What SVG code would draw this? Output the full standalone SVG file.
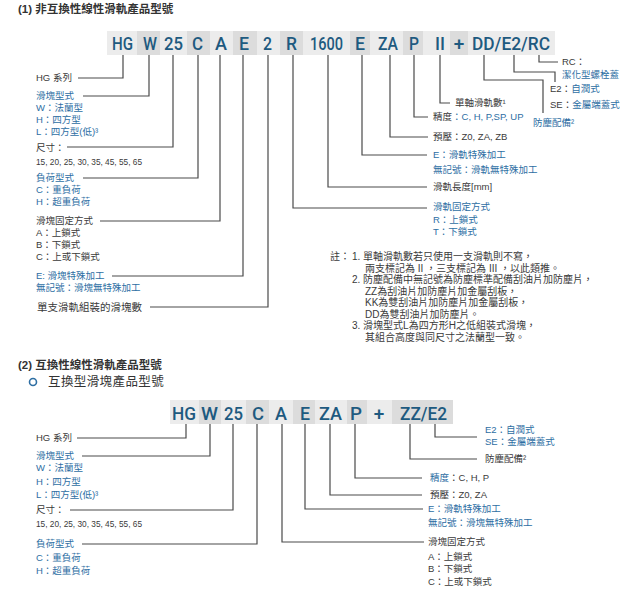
<svg xmlns="http://www.w3.org/2000/svg" width="632" height="600" viewBox="0 0 632 600">
<style>
.bg{fill:#ffffff}
.b1{fill:#ececec}
.b2{fill:#dcdcdc}
.code{font-family:Roboto,"Liberation Sans",sans-serif;font-weight:500;font-size:19px;fill:#1e5a80}
.t{font-family:"Liberation Sans","Noto Sans CJK TC",sans-serif;font-size:9.5px;fill:#3a3a3a}
.bl{fill:#2d6ea3}
.big{font-size:10.5px}
.nt{font-size:10px}
.ttl{font-family:"Liberation Sans","Noto Sans CJK TC",sans-serif;font-size:11.5px;font-weight:bold;fill:#333333}
.sub{font-family:"Liberation Sans","Noto Sans CJK TC",sans-serif;font-size:12.5px;fill:#333333;letter-spacing:0.4px}
.conn path{fill:none;stroke:#4a4a4a;stroke-width:1.2}
</style>
<rect class="bg" x="0" y="0" width="632" height="600"/>

<g id="title1"><text class="ttl" x="18" y="13">(1) 非互換性線性滑軌產品型號</text></g>

<g id="code1">
<rect class="b1" x="107" y="31" width="30" height="24"/>
<rect class="b2" x="137" y="31" width="23" height="24"/>
<rect class="b1" x="160" y="31" width="27" height="24"/>
<rect class="b2" x="187" y="31" width="23" height="24"/>
<rect class="b1" x="210" y="31" width="23" height="24"/>
<rect class="b2" x="233" y="31" width="24" height="24"/>
<rect class="b1" x="257" y="31" width="23" height="24"/>
<rect class="b2" x="280" y="31" width="23" height="24"/>
<rect class="b1" x="303" y="31" width="47" height="24"/>
<rect class="b2" x="350" y="31" width="20" height="24"/>
<rect class="b1" x="370" y="31" width="33" height="24"/>
<rect class="b2" x="403" y="31" width="20" height="24"/>
<rect class="b1" x="423" y="31" width="27" height="24"/>
<rect class="b2" x="450" y="31" width="18" height="24"/>
<rect class="b1" x="468" y="31" width="87" height="24"/>
<text class="code" x="112" y="50" textLength="21" lengthAdjust="spacingAndGlyphs">HG</text>
<text class="code" x="143" y="50" textLength="14" lengthAdjust="spacingAndGlyphs">W</text>
<text class="code" x="164" y="50" textLength="19" lengthAdjust="spacingAndGlyphs">25</text>
<text class="code" x="192" y="50" textLength="11" lengthAdjust="spacingAndGlyphs">C</text>
<text class="code" x="215" y="50" textLength="12" lengthAdjust="spacingAndGlyphs">A</text>
<text class="code" x="239" y="50" textLength="10" lengthAdjust="spacingAndGlyphs">E</text>
<text class="code" x="263" y="50" textLength="9" lengthAdjust="spacingAndGlyphs">2</text>
<text class="code" x="286" y="50" textLength="11" lengthAdjust="spacingAndGlyphs">R</text>
<text class="code" x="310" y="50" textLength="33" lengthAdjust="spacingAndGlyphs">1600</text>
<text class="code" x="355" y="50" textLength="10" lengthAdjust="spacingAndGlyphs">E</text>
<text class="code" x="378" y="50" textLength="20" lengthAdjust="spacingAndGlyphs">ZA</text>
<text class="code" x="409" y="50" textLength="10" lengthAdjust="spacingAndGlyphs">P</text>
<text class="code" x="435" y="50" textLength="10" lengthAdjust="spacingAndGlyphs">II</text>
<text class="code" x="459" y="50" text-anchor="middle">+</text>
<text class="code" x="472" y="50" textLength="78" lengthAdjust="spacingAndGlyphs">DD/E2/RC</text>
</g>

<g class="conn" id="connectors1">
<path d="M123,55 V78 H78"/>
<path d="M149,55 V96 H83"/>
<path d="M173,55 V147 H67"/>
<path d="M198,55 V178 H83"/>
<path d="M220,55 V221 H100"/>
<path d="M243,55 V276 H112"/>
<path d="M268,55 V307 H150"/>
<path d="M293,55 V208 H427"/>
<path d="M328,55 V187 H427"/>
<path d="M362,55 V155 H427"/>
<path d="M390,55 V137 H428"/>
<path d="M414,55 V117 H428"/>
<path d="M440,55 V103 H450"/>
<path d="M484,55 V80 H543 V113"/>
<path d="M514,55 V72 H555 V82"/>
<path d="M539,55 V62 H558"/>
</g>

<g id="l-hg1"><text class="t" x="36" y="81">HG 系列</text></g>
<g id="l-w1">
<text class="t bl" x="36" y="99">滑塊型式</text>
<text class="t bl" x="36" y="111">W：法蘭型</text>
<text class="t bl" x="36" y="123">H：四方型</text>
<text class="t bl" x="36" y="135">L：四方型(低)³</text>
</g>
<g id="l-size1">
<text class="t" x="36" y="151">尺寸：</text>
<text class="t" x="36" y="165" textLength="106" lengthAdjust="spacingAndGlyphs">15, 20, 25, 30, 35, 45, 55, 65</text>
</g>
<g id="l-load1">
<text class="t bl" x="36" y="181">負荷型式</text>
<text class="t bl" x="36" y="193">C：重負荷</text>
<text class="t bl" x="36" y="205">H：超重負荷</text>
</g>
<g id="l-fix1">
<text class="t" x="36" y="224">滑塊固定方式</text>
<text class="t" x="36" y="236">A：上鎖式</text>
<text class="t" x="36" y="248">B：下鎖式</text>
<text class="t" x="36" y="260">C：上或下鎖式</text>
</g>
<g id="l-e1">
<text class="t bl" x="36" y="279">E: 滑塊特殊加工</text>
<text class="t bl" x="36" y="291">無記號：滑塊無特殊加工</text>
</g>
<g id="l-num1"><text class="t big" x="37" y="311">單支滑軌組裝的滑塊數</text></g>

<g id="l-rc1">
<text class="t" x="562" y="65">RC：</text>
<text class="t bl" x="562" y="78">潔化型螺栓蓋</text>
</g>
<g id="l-e2-1">
<text class="t" x="550" y="92">E2：<tspan class="bl">自潤式</tspan></text>
<text class="t" x="550" y="108">SE：<tspan class="bl">金屬端蓋式</tspan></text>
</g>
<g id="l-dust1"><text class="t bl" x="533" y="126">防塵配備²</text></g>
<g id="l-ii1"><text class="t" x="455" y="106">單軸滑軌數¹</text></g>
<g id="l-p1"><text class="t" x="433" y="120">精度<tspan class="bl">：C, H, P,SP, UP</tspan></text></g>
<g id="l-za1"><text class="t" x="433" y="140">預壓：Z0, ZA, ZB</text></g>
<g id="l-re1">
<text class="t bl" x="433" y="158">E：滑軌特殊加工</text>
<text class="t bl" x="433" y="173">無記號：滑軌無特殊加工</text>
</g>
<g id="l-len1"><text class="t" x="433" y="190">滑軌長度[mm]</text></g>
<g id="l-rfix1">
<text class="t bl" x="433" y="210">滑軌固定方式</text>
<text class="t bl" x="433" y="223">R：上鎖式</text>
<text class="t bl" x="433" y="235">T：下鎖式</text>
</g>

<g id="notes">
<text class="t nt" x="330" y="260">註：</text>
<text class="t nt" x="352" y="260">1. 單軸滑軌數若只使用一支滑軌則不寫，</text>
<text class="t nt" x="365" y="271.5">兩支標記為 II ，三支標記為 III ，以此類推。</text>
<text class="t nt" x="352" y="283">2. 防塵配備中無記號為防塵標準配備刮油片加防塵片，</text>
<text class="t nt" x="365" y="294.5">ZZ為刮油片加防塵片加金屬刮板，</text>
<text class="t nt" x="365" y="306">KK為雙刮油片加防塵片加金屬刮板，</text>
<text class="t nt" x="365" y="317.5">DD為雙刮油片加防塵片。</text>
<text class="t nt" x="352" y="329">3. 滑塊型式L為四方形H之低組裝式滑塊，</text>
<text class="t nt" x="365" y="340.5">其組合高度與同尺寸之法蘭型一致。</text>
</g>

<g id="title2">
<text class="ttl" x="18" y="369">(2) 互換性線性滑軌產品型號</text>
<circle cx="33" cy="382" r="3.5" fill="none" stroke="#2d6ea3" stroke-width="1.6"/>
<text class="sub" x="48" y="386">互換型滑塊產品型號</text>
</g>

<g id="code2">
<rect class="b1" x="170" y="400" width="29" height="24"/>
<rect class="b2" x="199" y="400" width="22" height="24"/>
<rect class="b1" x="221" y="400" width="25" height="24"/>
<rect class="b2" x="246" y="400" width="23" height="24"/>
<rect class="b1" x="269" y="400" width="24" height="24"/>
<rect class="b2" x="293" y="400" width="22" height="24"/>
<rect class="b1" x="315" y="400" width="32" height="24"/>
<rect class="b2" x="347" y="400" width="20" height="24"/>
<rect class="b1" x="367" y="400" width="25" height="24"/>
<rect class="b2" x="392" y="400" width="61" height="24"/>
<text class="code" x="172" y="420" textLength="24" lengthAdjust="spacingAndGlyphs">HG</text>
<text class="code" x="201" y="420" textLength="17" lengthAdjust="spacingAndGlyphs">W</text>
<text class="code" x="224" y="420" textLength="19" lengthAdjust="spacingAndGlyphs">25</text>
<text class="code" x="252" y="420" textLength="12" lengthAdjust="spacingAndGlyphs">C</text>
<text class="code" x="275" y="420" textLength="12" lengthAdjust="spacingAndGlyphs">A</text>
<text class="code" x="300" y="420" textLength="10" lengthAdjust="spacingAndGlyphs">E</text>
<text class="code" x="319" y="420" textLength="23" lengthAdjust="spacingAndGlyphs">ZA</text>
<text class="code" x="350" y="420" textLength="12" lengthAdjust="spacingAndGlyphs">P</text>
<text class="code" x="379" y="420" text-anchor="middle">+</text>
<text class="code" x="400" y="420" textLength="47" lengthAdjust="spacingAndGlyphs">ZZ/E2</text>
</g>

<g class="conn" id="connectors2">
<path d="M186,424 V438 H77"/>
<path d="M210,424 V456 H82"/>
<path d="M233,424 V510 H70"/>
<path d="M257,424 V544 H82"/>
<path d="M282,424 V542 H424"/>
<path d="M305,424 V509 H423"/>
<path d="M330,424 V495 H422"/>
<path d="M355,424 V478 H422"/>
<path d="M410,424 V459 H477"/>
<path d="M435,424 V437 H477"/>
</g>

<g id="l-hg2"><text class="t" x="36" y="441">HG 系列</text></g>
<g id="l-w2">
<text class="t bl" x="36" y="459">滑塊型式</text>
<text class="t bl" x="36" y="471">W：法蘭型</text>
<text class="t bl" x="36" y="485">H：四方型</text>
<text class="t bl" x="36" y="498">L：四方型(低)³</text>
</g>
<g id="l-size2">
<text class="t" x="36" y="513">尺寸：</text>
<text class="t" x="36" y="527" textLength="106" lengthAdjust="spacingAndGlyphs">15, 20, 25, 30, 35, 45, 55, 65</text>
</g>
<g id="l-load2">
<text class="t bl" x="36" y="547">負荷型式</text>
<text class="t bl" x="36" y="561">C：重負荷</text>
<text class="t bl" x="36" y="574">H：超重負荷</text>
</g>
<g id="l-e2-2">
<text class="t bl" x="485" y="433">E2：自潤式</text>
<text class="t bl" x="485" y="445">SE：金屬端蓋式</text>
</g>
<g id="l-dust2"><text class="t" x="485" y="462">防塵配備²</text></g>
<g id="l-p2"><text class="t" x="430" y="481"><tspan class="bl">精度</tspan>：C, H, P</text></g>
<g id="l-za2"><text class="t" x="430" y="498">預壓：Z0, ZA</text></g>
<g id="l-re2">
<text class="t bl" x="428" y="512">E：滑軌特殊加工</text>
<text class="t bl" x="428" y="526">無記號：滑塊無特殊加工</text>
</g>
<g id="l-fix2">
<text class="t" x="428" y="545">滑塊固定方式</text>
<text class="t" x="428" y="560">A：上鎖式</text>
<text class="t" x="428" y="572">B：下鎖式</text>
<text class="t" x="428" y="585">C：上或下鎖式</text>
</g>
</svg>
